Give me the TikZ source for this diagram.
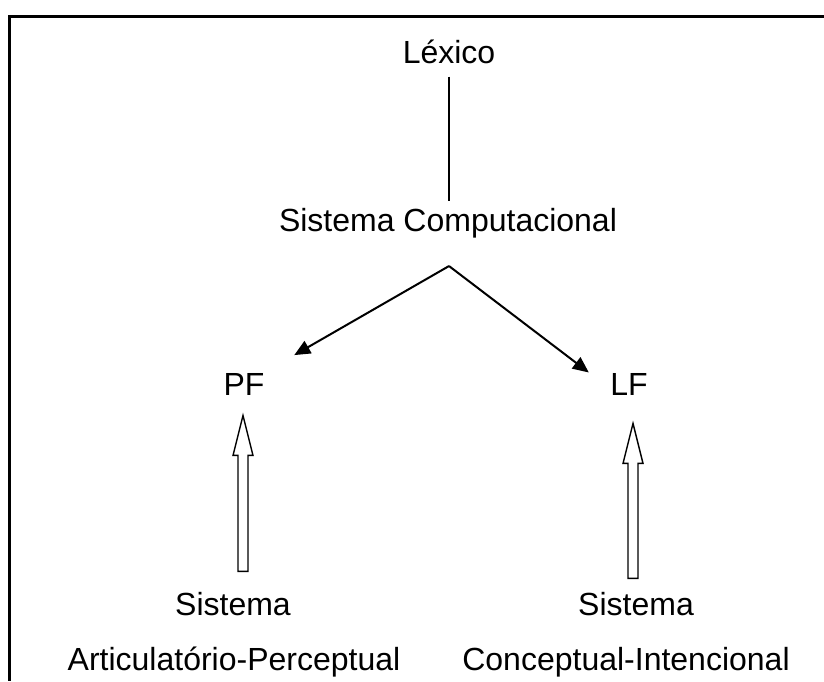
\documentclass[tikz,border=0pt]{standalone}
\usepackage{fontspec}
\setmainfont{Liberation Sans}
\usetikzlibrary{calc}
\usetikzlibrary{arrows.meta}
\tikzstyle{label}=[inner sep=3pt, anchor=base, font=\fontsize{16}{19}\selectfont]
\tikzstyle{frame}=[black, line width=1.1pt]
\tikzstyle{branch}=[line width=1pt, -{Triangle[length=8pt,width=7pt]}]
\tikzstyle{hollow}=[line width=0.7pt, fill=white, line join=miter]
\newcommand{\hollowarrow}[2]{% Syntax: {foot}{tip}, both named coordinates
  \draw[hollow] ($(#1)+(-5,0)$) -- ($(#2)+(-5,40)$) -- ($(#2)+(-10,40)$) -- (#2)
    -- ($(#2)+(10,40)$) -- ($(#2)+(5,40)$) -- ($(#1)+(5,0)$) -- cycle;
}

\begin{document}
\begin{tikzpicture}[x=0.5pt, y=-0.5pt]
  \useasboundingbox (0,0) rectangle (824,681);
  \draw[frame] (824,16.5) -- (9.5,16.5) -- (9.5,681);
  \node[label] (lex) at (449,63) {Léxico};
  \node[label] (sc) at (448,231) {Sistema Computacional};
  \node[label] (pf) at (244,395) {PF};
  \node[label] (lf) at (629,395) {LF};
  \node[label] (sisA) at (233,615) {Sistema};
  \node[label] (artA) at (234,670) {Articulatório-Perceptual};
  \node[label] (sisB) at (636,615) {Sistema};
  \node[label] (conB) at (626,670) {Conceptual-Intencional};
  \draw[line width=0.8pt, shorten <=3.5pt] (lex.south) -- (lex.south |- sc.north);
  \coordinate (fork) at ($(sc.south)+(1,22)$);
  \draw[branch, shorten >=13.5pt] (fork) -- (pf);
  \draw[branch, shorten >=9.5pt] (fork) -- (lf.west);
  %\draw[red] (pf.south) -- (sisA.north); % use this to debug
  \coordinate (pfTip) at ($(pf.south)+(-1,14)$);
  \coordinate (pfFoot) at ($(pf.south |- sisA.north)+(-1,-14)$);
  \coordinate (lfTip) at ($(lf.south)+(4,22)$);
  \coordinate (lfFoot) at ($(lf.south |- sisB.north)+(4,-7)$);
  \hollowarrow{pfFoot}{pfTip}
  \hollowarrow{lfFoot}{lfTip}
\end{tikzpicture}
\end{document}
